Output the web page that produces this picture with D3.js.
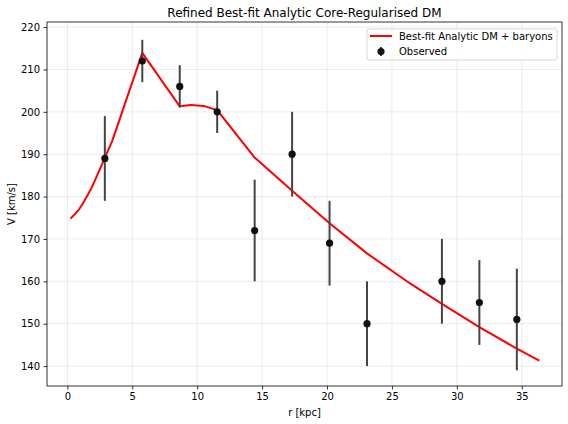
<!DOCTYPE html>
<html>
<head>
<meta charset="utf-8">
<script src="https://cdn.jsdelivr.net/npm/d3@7"></script>
<style>
  body { margin: 0; background: #fff; }
  svg { font-family: "DejaVu Sans", sans-serif; }
</style>
</head>
<body>
<div id="chart"></div>
<script>
// observed rotation curve
const obsR = [2.885, 5.77, 8.655, 11.54, 14.425, 17.31, 20.195, 23.08, 28.85, 31.735, 34.62];
const obsV = [189, 212, 206, 200, 172, 190, 169, 150, 160, 155, 151];
const obsErr = [10, 5, 5, 5, 12, 10, 10, 10, 10, 10, 12];

// best-fit model curve
const fitR = [0.23, 0.6, 0.9, 1.2, 1.5, 1.85, 2.15, 2.5, 2.885, 3.45, 4.3, 5.77, 8.655, 9.5, 10.5, 11.54, 14.425, 17.31, 20.195, 23.08, 26.4, 28.85, 31.735, 34.62, 36.35];
const fitV = [174.8, 175.9, 177.0, 178.4, 180.0, 182.0, 184.0, 186.4, 189.2, 193.1, 200.7, 213.9, 201.3, 201.6, 201.4, 200.4, 189.2, 181.4, 173.7, 166.6, 159.5, 154.7, 149.2, 144.1, 141.3];

const xTicks = [0, 5, 10, 15, 20, 25, 30, 35];
const yTicks = [140, 150, 160, 170, 180, 190, 200, 210, 220];

const W = 568, H = 424;
const margin = { top: 22, right: 6, bottom: 38, left: 47 };
const width = W - margin.left - margin.right;
const height = H - margin.top - margin.bottom;

const svg = d3.select("#chart").append("svg")
  .attr("width", W)
  .attr("height", H);

const g = svg.append("g")
  .attr("transform", `translate(${margin.left},${margin.top})`);

const x = d3.scaleLinear().domain([-1.57, 38.1]).range([0, width]);
const y = d3.scaleLinear().domain([135.3, 221.2]).range([height, 0]);

// grid
g.append("g").selectAll("line").data(xTicks).enter().append("line")
  .attr("x1", d => x(d)).attr("x2", d => x(d))
  .attr("y1", 0).attr("y2", height)
  .attr("stroke", "#b0b0b0").attr("stroke-opacity", 0.3).attr("stroke-width", 0.8);
g.append("g").selectAll("line").data(yTicks).enter().append("line")
  .attr("x1", 0).attr("x2", width)
  .attr("y1", d => y(d)).attr("y2", d => y(d))
  .attr("stroke", "#b0b0b0").attr("stroke-opacity", 0.3).attr("stroke-width", 0.8);

// axes
const xAxis = g.append("g")
  .attr("transform", `translate(0,${height})`)
  .call(d3.axisBottom(x).tickValues(xTicks).tickSize(3.5).tickPadding(3.5).tickFormat(d3.format("d")));
const yAxis = g.append("g")
  .call(d3.axisLeft(y).tickValues(yTicks).tickSize(3.5).tickPadding(3.5).tickFormat(d3.format("d")));
[xAxis, yAxis].forEach(a => {
  a.select(".domain").remove();
  a.selectAll("text").attr("font-size", 10).attr("fill", "#000").attr("font-family", "DejaVu Sans");
  a.selectAll("line").attr("stroke", "#000").attr("stroke-width", 0.8);
});

// model line
const line = d3.line()
  .x((d, i) => x(fitR[i]))
  .y(d => y(d));
g.append("path")
  .datum(fitV)
  .attr("fill", "none")
  .attr("stroke", "#ff0000")
  .attr("stroke-width", 2)
  .attr("stroke-linejoin", "round")
  .attr("d", line);

// error bars + points
const pts = obsR.map((r, i) => ({ r, v: obsV[i], e: obsErr[i] }));
g.append("g").selectAll("line").data(pts).enter().append("line")
  .attr("x1", d => x(d.r)).attr("x2", d => x(d.r))
  .attr("y1", d => y(d.v - d.e)).attr("y2", d => y(d.v + d.e))
  .attr("stroke", "#444").attr("stroke-width", 2);
g.append("g").selectAll("circle").data(pts).enter().append("circle")
  .attr("cx", d => x(d.r)).attr("cy", d => y(d.v))
  .attr("r", 3.6)
  .attr("fill", "#111");

// frame
g.append("rect")
  .attr("width", width).attr("height", height)
  .attr("fill", "none").attr("stroke", "#000").attr("stroke-width", 0.8);

// legend
const leg = svg.append("g").attr("transform", "translate(367,29)");
leg.append("rect")
  .attr("width", 190).attr("height", 31).attr("rx", 2)
  .attr("fill", "#fff").attr("fill-opacity", 0.8)
  .attr("stroke", "#ccc").attr("stroke-width", 0.8);
leg.append("line")
  .attr("x1", 3).attr("x2", 25).attr("y1", 7).attr("y2", 7)
  .attr("stroke", "#ff0000").attr("stroke-width", 2);
leg.append("line")
  .attr("x1", 14).attr("x2", 14).attr("y1", 18).attr("y2", 27)
  .attr("stroke", "#444").attr("stroke-width", 2);
leg.append("circle").attr("cx", 14).attr("cy", 22.5).attr("r", 3.6).attr("fill", "#111");
leg.append("text").attr("x", 32).attr("y", 10.5).attr("font-size", 10).text("Best-fit Analytic DM + baryons");
leg.append("text").attr("x", 32).attr("y", 26).attr("font-size", 10).text("Observed");

// title and labels
svg.append("text")
  .attr("x", margin.left + width / 2).attr("y", 17)
  .attr("text-anchor", "middle").attr("font-size", 12)
  .text("Refined Best-fit Analytic Core-Regularised DM");
svg.append("text")
  .attr("x", margin.left + width / 2).attr("y", 416)
  .attr("text-anchor", "middle").attr("font-size", 10)
  .text("r [kpc]");
svg.append("text")
  .attr("transform", `translate(15,${margin.top + height / 2}) rotate(-90)`)
  .attr("text-anchor", "middle").attr("font-size", 10)
  .text("V [km/s]");
</script>
</body>
</html>
